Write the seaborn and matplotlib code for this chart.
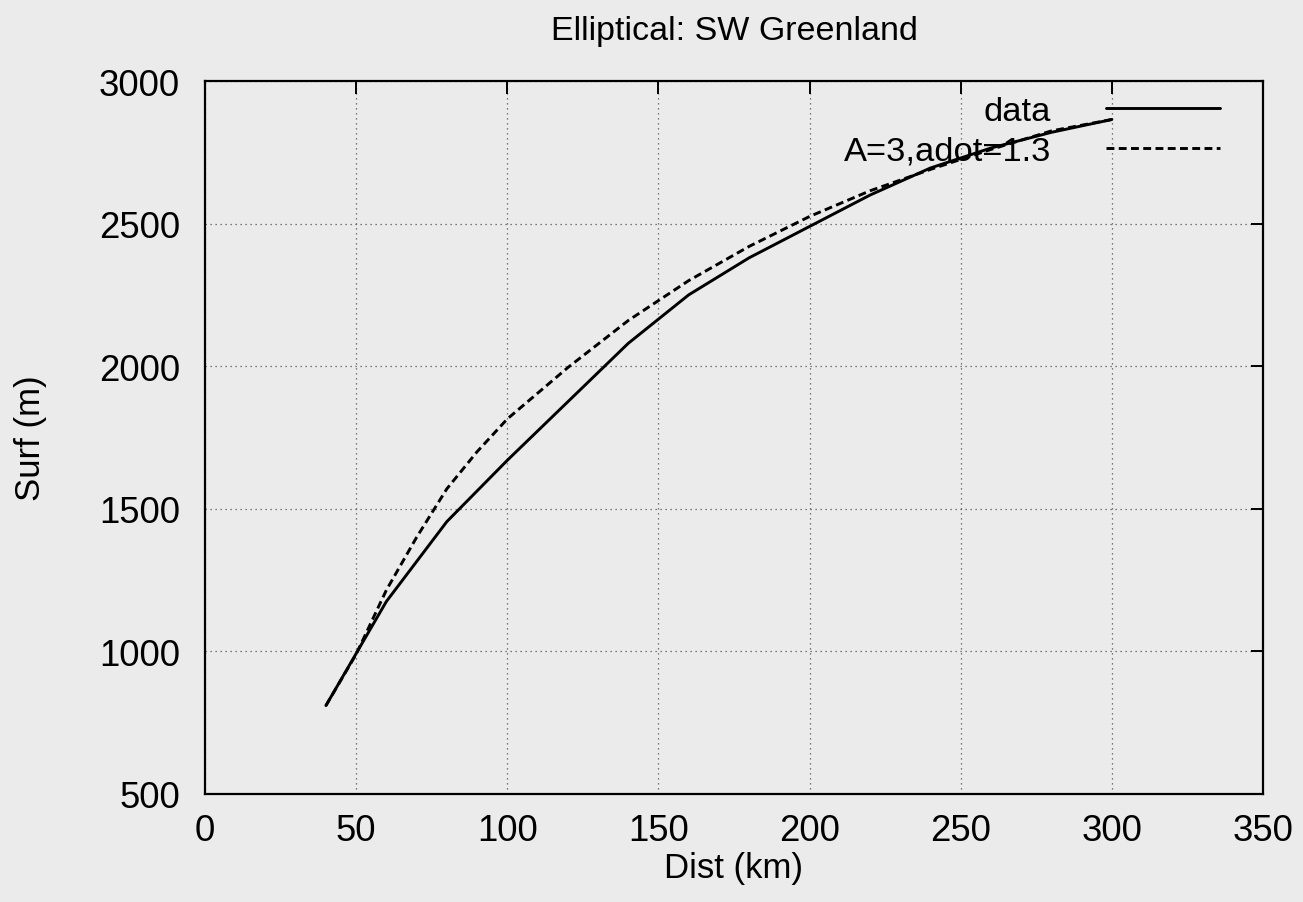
import numpy as np
import pandas as pd
import matplotlib
matplotlib.use("Agg")
import matplotlib.pyplot as plt
import seaborn as sns

# data
dist_data = [40, 60, 80, 100, 120, 140, 160, 180, 200, 220, 240, 260, 280, 300]
surf_data = [810, 1175, 1455, 1670, 1875, 2080, 2250, 2380, 2490, 2600, 2695, 2765, 2820, 2865]
dist_model = [40, 50, 60, 70, 80, 90, 100, 120, 140, 160, 180, 200, 220, 240, 260, 280, 300]
surf_model = [810, 990, 1215, 1400, 1570, 1700, 1815, 1995, 2160, 2300, 2420, 2525, 2615, 2690, 2760, 2825, 2865]
labels = ["data", "A=3,adot=1.3"]

df = pd.concat([
    pd.DataFrame({"Dist": dist_data, "Surf": surf_data, "series": labels[0]}),
    pd.DataFrame({"Dist": dist_model, "Surf": surf_model, "series": labels[1]}),
], ignore_index=True)

sns.set_theme(style="white")
plt.rcParams["font.family"] = ["Liberation Sans", "DejaVu Sans"]
plt.rcParams["text.color"] = "black"
plt.rcParams["axes.labelcolor"] = "black"
bg = "#ebebeb"
fs_tick = 26.3
fs = 25

fig = plt.figure(figsize=(13.03, 9.03), dpi=100, facecolor=bg)
ax = fig.add_axes([205/1303, 1-795/903, (1263-205)/1303, (795-82)/903])
ax.set_facecolor(bg)

sns.lineplot(data=df, x="Dist", y="Surf", hue="series", style="series",
             palette=["black", "black"], dashes=[(None, None), (2.7, 1.5)],
             linewidth=2.1, ax=ax, sort=False, estimator=None)

ax.set_xlim(0, 350)
ax.set_ylim(500, 3000)
ax.set_xticks(np.arange(0, 351, 50))
ax.set_yticks(np.arange(500, 3001, 500))
ax.grid(True, linestyle=(0, (1, 3)), color="#555555", linewidth=0.9)
ax.tick_params(direction="in", length=9, width=1.4, top=True, right=True,
               labelsize=fs_tick, colors="black")
ax.tick_params(axis="x", pad=14)
ax.tick_params(axis="y", pad=18)
for s in ax.spines.values():
    s.set_color("black")
    s.set_linewidth(1.6)

ax.set_xlabel("Dist (km)", fontsize=fs, labelpad=2)
ax.set_ylabel("Surf (m)", fontsize=fs, labelpad=37)
ax.set_title("Elliptical: SW Greenland", fontsize=24.5, pad=30)

handles, lbls = ax.get_legend_handles_labels()
leg = ax.legend(handles, lbls, loc="upper right", frameon=False, markerfirst=False,
                fontsize=24.8, handlelength=3.3, handletextpad=1.6,
                labelspacing=0.25, borderaxespad=0.0, borderpad=0.0,
                bbox_to_anchor=(1 - 43/1058, 1 - 15/713))

fig.savefig("out.png", dpi=100, facecolor=bg)
